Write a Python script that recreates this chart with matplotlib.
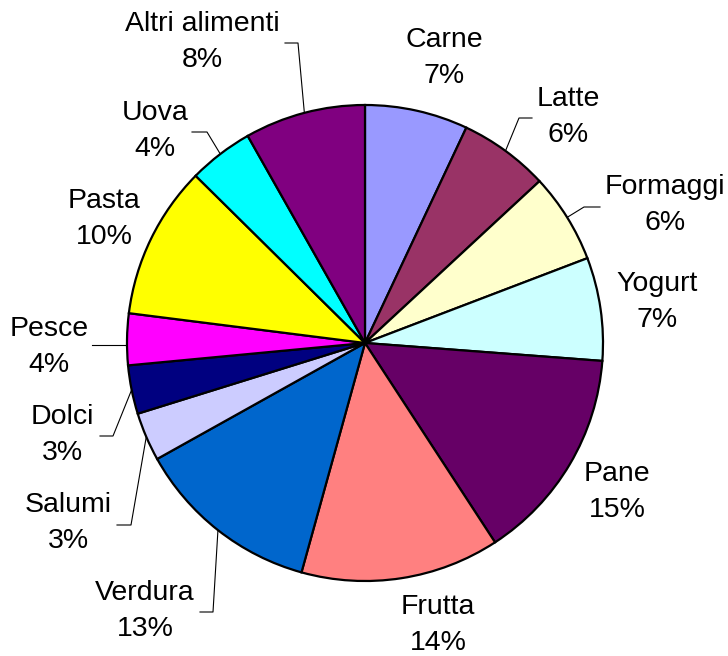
import math
import numpy as np
import matplotlib
matplotlib.use("Agg")
import matplotlib.pyplot as plt

# ---- data ----
categories = ["Carne", "Latte", "Formaggi", "Yogurt", "Pane", "Frutta", "Verdura",
              "Salumi", "Dolci", "Pesce", "Pasta", "Uova", "Altri alimenti"]
values = [7.0, 6.1, 6.1, 7.0, 14.6, 13.5, 12.6, 3.3, 3.3, 3.5, 10.4, 4.4, 8.2]
colors = ["#9999FF", "#993366", "#FFFFCC", "#CCFFFF", "#660066", "#FF8080", "#0066CC",
          "#CCCCFF", "#000080", "#FF00FF", "#FFFF00", "#00FFFF", "#800080"]

# ---- layout (pixel coordinates, y from top) ----
W, H = 728, 656
center_px = (365, 343)
radius = 238
label_pos = [(444, 58), (568, 117), (665, 205), (657, 302), (617, 492), (438, 625),
             (145, 611), (68, 523), (62, 435), (49, 347), (104, 219), (155, 131), (202, 42)]
# leader anchor near text and elbow point (None = no leader)
leaders = [None, ((532, 118), (519, 118)), ((600, 207), (584, 207)), None, None, None,
           ((200, 612), (213, 612)), ((117, 525), (131, 525)), ((100, 436), (113, 436)),
           ((92, 345), None), None, ((192, 132), (207, 132)), ((285, 43), (298, 43))]

plt.rcParams['font.family'] = ['Liberation Sans', 'DejaVu Sans']

fig = plt.figure(figsize=(W / 100, H / 100), dpi=100)
ax = fig.add_axes([0, 0, 1, 1])

cx, cy = center_px[0], H - center_px[1]
wedges, _ = ax.pie(values, colors=colors, startangle=90, counterclock=False,
                   center=(cx, cy), radius=radius, frame=True,
                   wedgeprops=dict(edgecolor="black", linewidth=1.6))
ax.set_xlim(0, W)
ax.set_ylim(0, H)
ax.axis("off")

total = sum(values)
for i, (cat, v) in enumerate(zip(categories, values)):
    pct = math.floor(v / total * 100 + 0.5 + 1e-9)
    lx, ly = label_pos[i]
    ax.text(lx, H - ly, f"{cat}\n{pct}%", ha="center", va="center",
            fontsize=20.5, color="black", linespacing=1.5)
    if leaders[i] is not None:
        w = wedges[i]
        mid = math.radians((w.theta1 + w.theta2) / 2)
        ex, ey = cx + radius * math.cos(mid), cy + radius * math.sin(mid)
        a, b = leaders[i]
        xs = [a[0]]
        ys = [H - a[1]]
        if b is not None:
            xs.append(b[0]); ys.append(H - b[1])
        else:
            ey = H - a[1]
        xs.append(ex); ys.append(ey)
        ax.plot(xs, ys, color="black", linewidth=0.8, zorder=0.5)

fig.savefig("out.png", dpi=100)
